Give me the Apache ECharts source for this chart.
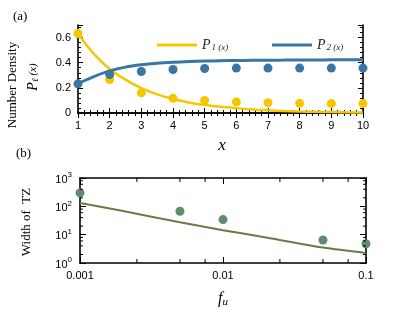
<!DOCTYPE html>
<html><head><meta charset="utf-8">
<script src="https://cdn.jsdelivr.net/npm/echarts@6/dist/echarts.min.js"></script>
<style>html,body{margin:0;padding:0;background:#fff}#c{width:415px;height:312px}</style>
</head><body><div id="c"></div>
<script>
// ---- Panel (a) data ----
const xCats = [1, 2, 3, 4, 5, 6, 7, 8, 9, 10];
const p1Dots = [0.632, 0.266, 0.16, 0.117, 0.10, 0.088, 0.082, 0.077, 0.075, 0.075];
const p2Dots = [0.232, 0.306, 0.33, 0.346, 0.354, 0.357, 0.357, 0.357, 0.357, 0.357];
const lineX = [1, 1.5, 2, 2.5, 3, 3.5, 4, 4.5, 5, 5.5, 6, 6.5, 7, 7.5, 8, 8.5, 9, 9.5, 10];
const p1Line = [0.63, 0.47, 0.35, 0.265, 0.197, 0.148, 0.112, 0.084, 0.063, 0.049, 0.038, 0.028, 0.021, 0.016, 0.012, 0.009, 0.007, 0.005, 0.004];
const p2Line = [0.235, 0.29, 0.335, 0.365, 0.383, 0.395, 0.403, 0.409, 0.413, 0.416, 0.418, 0.419, 0.42, 0.421, 0.422, 0.422, 0.423, 0.423, 0.424];
// ---- Panel (b) data ----
const fu = [0.001, 0.005, 0.01, 0.05, 0.1];
const widthTZ = [297, 67, 34, 6.5, 4.8];
const fitX = [0.001, 0.002, 0.005, 0.01, 0.02, 0.05, 0.1];
const fitY = [132, 68, 27.5, 14.3, 8.0, 3.5, 2.25];
const xMinorTicks = [0.0025, 0.005, 0.0075, 0.025, 0.05, 0.075];
const yMinorTicks = [2, 4, 6, 8, 20, 40, 60, 80, 200, 400, 600, 800];

const YEL = '#f7c600', BLU = '#3a75a3', GRN = '#5f8c6a', OLV = '#6b7b45';
const SANS = 'Liberation Sans', SERIF = 'Liberation Serif';
const zip = (a, b) => a.map((v, i) => [v, b[i]]);

const frameLine = {show: true, lineStyle: {color: '#000', width: 1.6}};
const tickIn = (len) => ({show: true, inside: true, length: len, lineStyle: {color: '#000', width: 1}});
const minorIn = {show: true, splitNumber: 5, length: 3, lineStyle: {color: '#000', width: 1}};
const lbl = {fontFamily: SANS, fontSize: 11, color: '#000'};

const chart = echarts.init(document.getElementById('c'), null, {renderer: 'canvas'});

const supLabel = (v) => '{b|10}{s|' + Math.round(Math.log10(v)) + '}';
const supRich = {b: {fontFamily: SANS, fontSize: 11, color: '#000', verticalAlign: 'bottom'},
                 s: {fontFamily: SANS, fontSize: 8, color: '#000', verticalAlign: 'top', padding: [0, 0, 6, 0]}};

const legRich = {p: {fontFamily: SERIF, fontStyle: 'italic', fontSize: 14, color: '#222'},
                 s: {fontFamily: SERIF, fontStyle: 'italic', fontSize: 9, color: '#222', padding: [5, 0, 0, 1]}};

function tickRender(axis) {
  return function (params, api) {
    const bl = api.coord([0.001, 1]);
    const tr = api.coord([0.1, 1000]);
    const p = api.coord([api.value(0), api.value(1)]);
    const st = {stroke: '#000', lineWidth: 1};
    if (axis === 'x') {
      return {type: 'group', children: [
        {type: 'line', shape: {x1: p[0], y1: bl[1], x2: p[0], y2: bl[1] - 4}, style: st},
        {type: 'line', shape: {x1: p[0], y1: tr[1], x2: p[0], y2: tr[1] + 4}, style: st}
      ]};
    }
    return {type: 'group', children: [
      {type: 'line', shape: {x1: bl[0], y1: p[1], x2: bl[0] + 3, y2: p[1]}, style: st},
      {type: 'line', shape: {x1: tr[0], y1: p[1], x2: tr[0] - 3, y2: p[1]}, style: st}
    ]};
  };
}

const option = {
  animation: false,
  backgroundColor: '#fff',
  grid: [
    {left: 78, top: 25, width: 285, height: 88},
    {left: 80, top: 178, width: 286, height: 85}
  ],
  xAxis: [
    {type: 'value', gridIndex: 0, min: 1, max: 10, interval: 1, position: 'bottom',
     axisLine: frameLine, axisTick: tickIn(5), minorTick: minorIn, splitLine: {show: false},
     axisLabel: Object.assign({margin: 7}, lbl)},
    {type: 'value', gridIndex: 0, min: 1, max: 10, interval: 1, position: 'top',
     axisLine: frameLine, axisTick: tickIn(5), minorTick: minorIn, splitLine: {show: false},
     axisLabel: {show: false}},
    {type: 'log', gridIndex: 1, min: 0.001, max: 0.1, logBase: 10, position: 'bottom',
     axisLine: frameLine, axisTick: tickIn(6), splitLine: {show: false},
     axisLabel: Object.assign({margin: 7, formatter: (v) => String(+v.toPrecision(3))}, lbl)},
    {type: 'log', gridIndex: 1, min: 0.001, max: 0.1, logBase: 10, position: 'top',
     axisLine: frameLine, axisTick: tickIn(6), splitLine: {show: false}, axisLabel: {show: false}}
  ],
  yAxis: [
    {type: 'value', gridIndex: 0, min: 0, max: 0.7, interval: 0.2, position: 'left',
     axisLine: frameLine, axisTick: tickIn(5), minorTick: minorIn, splitLine: {show: false},
     axisLabel: Object.assign({margin: 7, showMaxLabel: false}, lbl)},
    {type: 'value', gridIndex: 0, min: 0, max: 0.7, interval: 0.2, position: 'right',
     axisLine: frameLine, axisTick: tickIn(5), minorTick: minorIn, splitLine: {show: false},
     axisLabel: {show: false}},
    {type: 'log', gridIndex: 1, min: 1, max: 1000, logBase: 10, position: 'left',
     axisLine: frameLine, axisTick: tickIn(6), splitLine: {show: false},
     axisLabel: {margin: 8, formatter: supLabel, rich: supRich}},
    {type: 'log', gridIndex: 1, min: 1, max: 1000, logBase: 10, position: 'right',
     axisLine: frameLine, axisTick: tickIn(6), splitLine: {show: false}, axisLabel: {show: false}}
  ],
  legend: [
    {data: ['P1'], left: 152, top: 33, icon: 'rect', itemWidth: 40, itemHeight: 3,
     formatter: () => '{p|P}{s|1 (x)}', textStyle: {rich: legRich}},
    {data: ['P2'], left: 267, top: 33, icon: 'rect', itemWidth: 40, itemHeight: 3,
     formatter: () => '{p|P}{s|2 (x)}', textStyle: {rich: legRich}}
  ],
  series: [
    {name: 'P1', type: 'line', xAxisIndex: 0, yAxisIndex: 0, data: zip(lineX, p1Line),
     smooth: 0.3, showSymbol: false, symbol: 'none',
     lineStyle: {color: YEL, width: 2.5}, itemStyle: {color: YEL}, z: 2},
    {name: 'P2', type: 'line', xAxisIndex: 0, yAxisIndex: 0, data: zip(lineX, p2Line),
     smooth: 0.3, showSymbol: false, symbol: 'none',
     lineStyle: {color: BLU, width: 3}, itemStyle: {color: BLU}, z: 2},
    {name: 'p1dots', type: 'scatter', xAxisIndex: 0, yAxisIndex: 0, data: zip(xCats, p1Dots),
     symbolSize: 9, itemStyle: {color: YEL, opacity: 1}, clip: false, z: 3},
    {name: 'p2dots', type: 'scatter', xAxisIndex: 0, yAxisIndex: 0, data: zip(xCats, p2Dots),
     symbolSize: 9, itemStyle: {color: BLU, opacity: 1}, clip: false, z: 3},
    {name: 'fit', type: 'line', xAxisIndex: 2, yAxisIndex: 2, data: zip(fitX, fitY),
     smooth: 0.3, showSymbol: false, symbol: 'none', lineStyle: {color: OLV, width: 2}, z: 2},
    {name: 'tz', type: 'scatter', xAxisIndex: 2, yAxisIndex: 2, data: zip(fu, widthTZ),
     symbolSize: 9, itemStyle: {color: GRN, opacity: 1}, clip: false, z: 3},
    {name: 'xminor', type: 'custom', xAxisIndex: 2, yAxisIndex: 2, silent: true,
     data: xMinorTicks.map(v => [v, 10]), renderItem: tickRender('x'), z: 4},
    {name: 'yminor', type: 'custom', xAxisIndex: 2, yAxisIndex: 2, silent: true,
     data: yMinorTicks.map(v => [0.01, v]), renderItem: tickRender('y'), z: 4}
  ],
  graphic: [
    {type: 'text', left: 13, top: 10, style: {text: '(a)', font: '13px "Liberation Serif"', fill: '#000'}},
    {type: 'text', left: 16, top: 147, style: {text: '(b)', font: '13px "Liberation Serif"', fill: '#000'}},
    {type: 'text', x: 13, y: 85, rotation: Math.PI / 2,
     style: {text: 'Number Density', font: '13px "Liberation Serif"', fill: '#000', align: 'center', verticalAlign: 'middle'}},
    {type: 'text', x: 33, y: 77, rotation: Math.PI / 2,
     style: {text: '{p|P}{s|ℓ}{t| (x)}', align: 'center', verticalAlign: 'middle',
       rich: {p: {fontFamily: SERIF, fontStyle: 'italic', fontSize: 14, fill: '#000'},
              s: {fontFamily: SERIF, fontStyle: 'italic', fontSize: 9, fill: '#000', padding: [6, 0, 0, 0]},
              t: {fontFamily: SERIF, fontStyle: 'italic', fontSize: 11, fill: '#000'}}}},
    {type: 'text', x: 222, y: 146,
     style: {text: 'x', font: 'italic 17px "Liberation Serif"', fill: '#000', align: 'center', verticalAlign: 'middle'}},
    {type: 'text', x: 27, y: 222, rotation: Math.PI / 2,
     style: {text: 'Width of  TZ', font: '13px "Liberation Serif"', fill: '#000', align: 'center', verticalAlign: 'middle'}},
    {type: 'text', x: 223, y: 299,
     style: {text: '{f|f}{u|u}', align: 'center', verticalAlign: 'middle',
       rich: {f: {fontFamily: SERIF, fontStyle: 'italic', fontSize: 16, fill: '#000'},
              u: {fontFamily: SERIF, fontStyle: 'italic', fontSize: 11, fill: '#000', padding: [6, 0, 0, 0]}}}}
  ]
};
chart.setOption(option);
</script></body></html>
